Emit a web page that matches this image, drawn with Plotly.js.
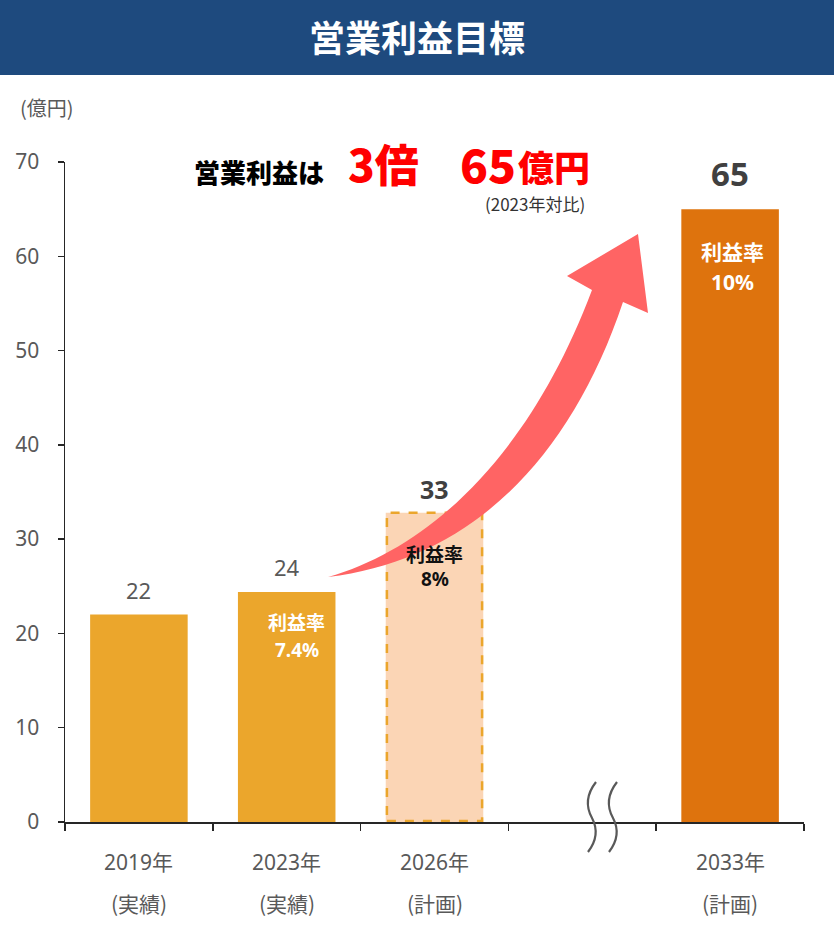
<!DOCTYPE html>
<html>
<head>
<meta charset="utf-8">
<script src="https://cdn.plot.ly/plotly-3.0.1.min.js"></script>
<style>html,body{margin:0;padding:0;background:#fff;}#chart{width:834px;height:928px;}</style>
</head>
<body>
<div id="chart"></div>
<script>
// ---- data ----
const categories = ['2019年', '2023年', '2026年', '2033年'];
const periodLabels = ['(実績)', '(実績)', '(計画)', '(計画)'];
const axisSlots = ['2019年', '2023年', '2026年', '—', '2033年'];
const profit = [22, 24.4, 32.8, 65];
const profitLabels = ['22', '24', '33', '65'];
const marginLabels = ['', '7.4%', '8%', '10%'];
const yTicks = [0, 10, 20, 30, 40, 50, 60, 70];

// ---- styles ----
const FONT = 'Noto Sans, Noto Sans CJK JP, sans-serif';
const JP = 'Noto Sans CJK JP, Noto Sans, sans-serif';
const barColors = ['#EBA62C', '#EBA62C', '#FBD5B5', '#DE730D'];
const W = 834, H = 928;
const M = {l: 65, r: 30, t: 162, b: 106};
const plotW = W - M.l - M.r, plotH = H - M.t - M.b;
const px = v => (v - M.l) / plotW;
const py = v => (H - M.b - v) / plotH;
const barWidth = 0.66;

function pathPaper(cmds) {
  return cmds.map(c => {
    const pts = [];
    for (let i = 1; i < c.length; i += 2) pts.push(px(c[i]).toFixed(5) + ',' + py(c[i + 1]).toFixed(5));
    return c[0] + ' ' + pts.join(' ');
  }).join(' ') + ' Z';
}

const trace = {
  type: 'bar',
  x: categories,
  y: profit,
  width: barWidth,
  marker: {color: barColors, line: {width: 0}},
  hoverinfo: 'skip'
};

const shapes = [];
// header band
shapes.push({type: 'rect', xref: 'paper', yref: 'paper', x0: px(0), x1: px(W), y0: py(75), y1: py(0),
  fillcolor: '#1E4A7E', line: {width: 0}, layer: 'below'});
// dashed outline for plan bar
const planIdx = axisSlots.indexOf('2026年');
shapes.push({type: 'rect', xref: 'x', yref: 'y', x0: planIdx - barWidth / 2 + 0.008, x1: planIdx + barWidth / 2 - 0.008,
  y0: 0.1, y1: profit[2], line: {color: '#EBA62C', width: 2.5, dash: 'dash'}, fillcolor: 'rgba(0,0,0,0)', layer: 'above'});
// growth arrow
shapes.push({type: 'path', xref: 'paper', yref: 'paper', layer: 'above', line: {width: 0},
  fillcolor: '#FF6464',
  path: pathPaper([
    ['M', 328, 577],
    ['C', 430, 548, 530, 455, 592, 290],
    ['L', 567, 276],
    ['L', 638, 234],
    ['L', 648, 313],
    ['L', 623, 302],
    ['C', 570, 460, 470, 560, 328, 577]
  ])});
// axis break marks
[0, 21].forEach(dx => {
  shapes.push({type: 'path', xref: 'paper', yref: 'paper', layer: 'above',
    line: {color: '#595959', width: 2.2},
    path: ['M', px(596 + dx) + ',' + py(782), 'Q', px(582 + dx) + ',' + py(800), px(592 + dx) + ',' + py(818),
      'Q', px(601 + dx) + ',' + py(835), px(588 + dx) + ',' + py(852)].join(' ')});
});

const annotations = [];
// unit label
annotations.push({xref: 'paper', yref: 'paper', x: px(47), y: py(107), text: '(億円)', showarrow: false,
  font: {family: JP, size: 20, color: '#595959'}, xanchor: 'center', yanchor: 'middle'});
// headline
annotations.push({xref: 'paper', yref: 'paper', x: px(192), y: py(171), text: '営業利益は', showarrow: false,
  font: {family: JP, size: 26, color: '#000000', weight: 900}, xanchor: 'left', yanchor: 'middle'});
annotations.push({xref: 'paper', yref: 'paper', x: px(346), y: py(163), text: '3倍', showarrow: false,
  font: {family: JP, size: 44, color: '#FF0000', weight: 900}, xanchor: 'left', yanchor: 'middle'});
annotations.push({xref: 'paper', yref: 'paper', x: px(518), y: py(163), text: '65', showarrow: false,
  font: {family: JP, size: 46, color: '#FF0000', weight: 900}, xanchor: 'right', yanchor: 'middle'});
annotations.push({xref: 'paper', yref: 'paper', x: px(516), y: py(166), text: '億円', showarrow: false,
  font: {family: JP, size: 36, color: '#FF0000', weight: 900}, xanchor: 'left', yanchor: 'middle'});
annotations.push({xref: 'paper', yref: 'paper', x: px(535), y: py(204), text: '(2023年対比)', showarrow: false,
  font: {family: JP, size: 17, color: '#333333'}, xanchor: 'center', yanchor: 'middle'});

// category labels (two rows)
categories.forEach((c, i) => {
  annotations.push({xref: 'x', yref: 'paper', x: c, y: 0, yshift: -40, text: c, showarrow: false,
    font: {family: FONT, size: 21, color: '#595959'}, yanchor: 'middle'});
  annotations.push({xref: 'x', yref: 'paper', x: c, y: 0, yshift: -81, text: periodLabels[i], showarrow: false,
    font: {family: JP, size: 21, color: '#595959'}, yanchor: 'middle'});
});

// value labels
const valStyle = [
  {size: 22, color: '#595959', weight: 400, shift: 25},
  {size: 22, color: '#595959', weight: 400, shift: 25},
  {size: 25, color: '#404040', weight: 700, shift: 24},
  {size: 33, color: '#404040', weight: 700, shift: 36}
];
categories.forEach((c, i) => {
  annotations.push({xref: 'x', yref: 'y', x: c, y: profit[i], yshift: valStyle[i].shift, text: profitLabels[i],
    showarrow: false, yanchor: 'middle',
    font: {family: FONT, size: valStyle[i].size, color: valStyle[i].color, weight: valStyle[i].weight}});
});

// margin labels inside bars
const marginStyle = [
  null,
  {color: '#FFFFFF', size: 19, s1: -30, s2: -58, dx: 10},
  {color: '#111111', size: 19, s1: -41, s2: -66, dx: 0},
  {color: '#FFFFFF', size: 21, s1: -42, s2: -73, dx: 2}
];
categories.forEach((c, i) => {
  const st = marginStyle[i];
  if (!st) return;
  annotations.push({xref: 'x', yref: 'y', x: c, y: profit[i], yshift: st.s1, xshift: st.dx, text: '利益率',
    showarrow: false, yanchor: 'middle', font: {family: JP, size: st.size, color: st.color, weight: 700}});
  annotations.push({xref: 'x', yref: 'y', x: c, y: profit[i], yshift: st.s2, xshift: st.dx, text: marginLabels[i],
    showarrow: false, yanchor: 'middle', font: {family: FONT, size: st.size, color: st.color, weight: 700}});
});

const layout = {
  width: W, height: H,
  margin: M,
  paper_bgcolor: '#FFFFFF', plot_bgcolor: '#FFFFFF',
  showlegend: false,
  title: {text: '営業利益目標', xref: 'container', yref: 'container', x: 0.5, y: 1 - 39 / H,
    xanchor: 'center', yanchor: 'middle', font: {family: JP, size: 36, color: '#FFFFFF', weight: 700}},
  xaxis: {type: 'category', categoryorder: 'array', categoryarray: axisSlots, range: [-0.5, 4.5],
    showticklabels: false, tickson: 'boundaries', ticks: 'outside', ticklen: 7, tickwidth: 1.5, tickcolor: '#262626',
    showline: true, linecolor: '#262626', linewidth: 2, showgrid: false, zeroline: false, fixedrange: true},
  yaxis: {range: [0, 70], tickvals: yTicks, ticktext: yTicks.map(String), ticks: 'outside', ticklen: 6,
    tickwidth: 1.5, tickcolor: '#262626', ticklabelstandoff: 14,
    showline: true, linecolor: '#262626', linewidth: 1.5, showgrid: false, zeroline: false,
    tickfont: {family: FONT, size: 21, color: '#595959'}, fixedrange: true},
  shapes: shapes,
  annotations: annotations
};

Plotly.newPlot('chart', [trace], layout, {displayModeBar: false, staticPlot: true});
</script>
</body>
</html>
